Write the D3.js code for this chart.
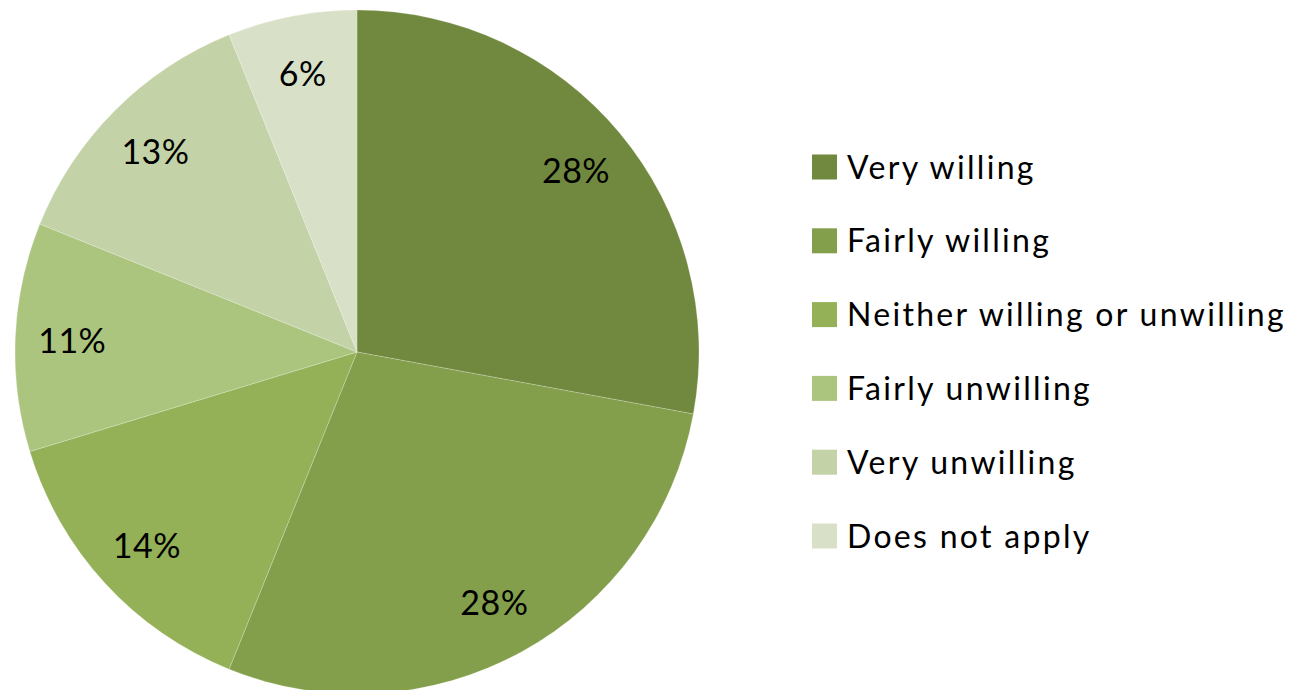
<!DOCTYPE html>
<html>
<head>
<meta charset="utf-8">
<script src="https://cdn.jsdelivr.net/npm/d3@7"></script>
<style>
  html, body { margin: 0; padding: 0; background: #fff; }
  svg { display: block; font-family: Lato, "Open Sans", sans-serif; }
</style>
</head>
<body>
<div id="chart"></div>
<script>
const categories = ['Very willing', 'Fairly willing', 'Neither willing or unwilling', 'Fairly unwilling', 'Very unwilling', 'Does not apply'];
const shares = [27.9, 28.2, 14.2, 10.8, 12.8, 6.1];
const labels = ['28%', '28%', '14%', '11%', '13%', '6%'];
const colors = ['#71893f', '#839f4b', '#95b158', '#acc57e', '#c3d3a7', '#d8e1c7'];

const width = 1294;
const height = 690;
const cx = 357, cy = 352;
const radius = 342;

const data = categories.map((c, i) => ({ name: c, value: shares[i], label: labels[i], color: colors[i] }));

const svg = d3.select('#chart')
    .append('svg')
    .attr('width', width)
    .attr('height', height);

const pie = d3.pie().sort(null).value(d => d.value);
const arc = d3.arc().innerRadius(0).outerRadius(radius);
const labelArc = d3.arc().innerRadius(285).outerRadius(285);

const g = svg.append('g').attr('transform', `translate(${cx},${cy})`);
const arcs = pie(data);

g.selectAll('path')
    .data(arcs)
    .join('path')
    .attr('d', arc)
    .attr('fill', d => d.data.color)
    .attr('stroke', '#ffffff')
    .attr('stroke-opacity', 0.35)
    .attr('stroke-width', 0.6);

g.selectAll('text')
    .data(arcs)
    .join('text')
    .attr('transform', d => `translate(${labelArc.centroid(d)})`)
    .attr('text-anchor', 'middle')
    .attr('dy', '0.4em')
    .style('font-size', '34px')
    .style('letter-spacing', '0.5px')
    .attr('fill', '#000')
    .text(d => d.data.label);

// legend
const legendY = d3.scalePoint().domain(categories).range([167, 536]);
const legend = svg.append('g');
const item = legend.selectAll('g')
    .data(data)
    .join('g')
    .attr('transform', d => `translate(812,${legendY(d.name)})`);

item.append('rect')
    .attr('x', 0)
    .attr('y', -12.5)
    .attr('width', 25)
    .attr('height', 25)
    .attr('fill', d => d.color);

item.append('text')
    .attr('x', 35)
    .attr('dy', '0.36em')
    .style('font-size', '32px')
    .style('letter-spacing', '2.3px')
    .attr('fill', '#000')
    .text(d => d.name);
</script>
</body>
</html>
